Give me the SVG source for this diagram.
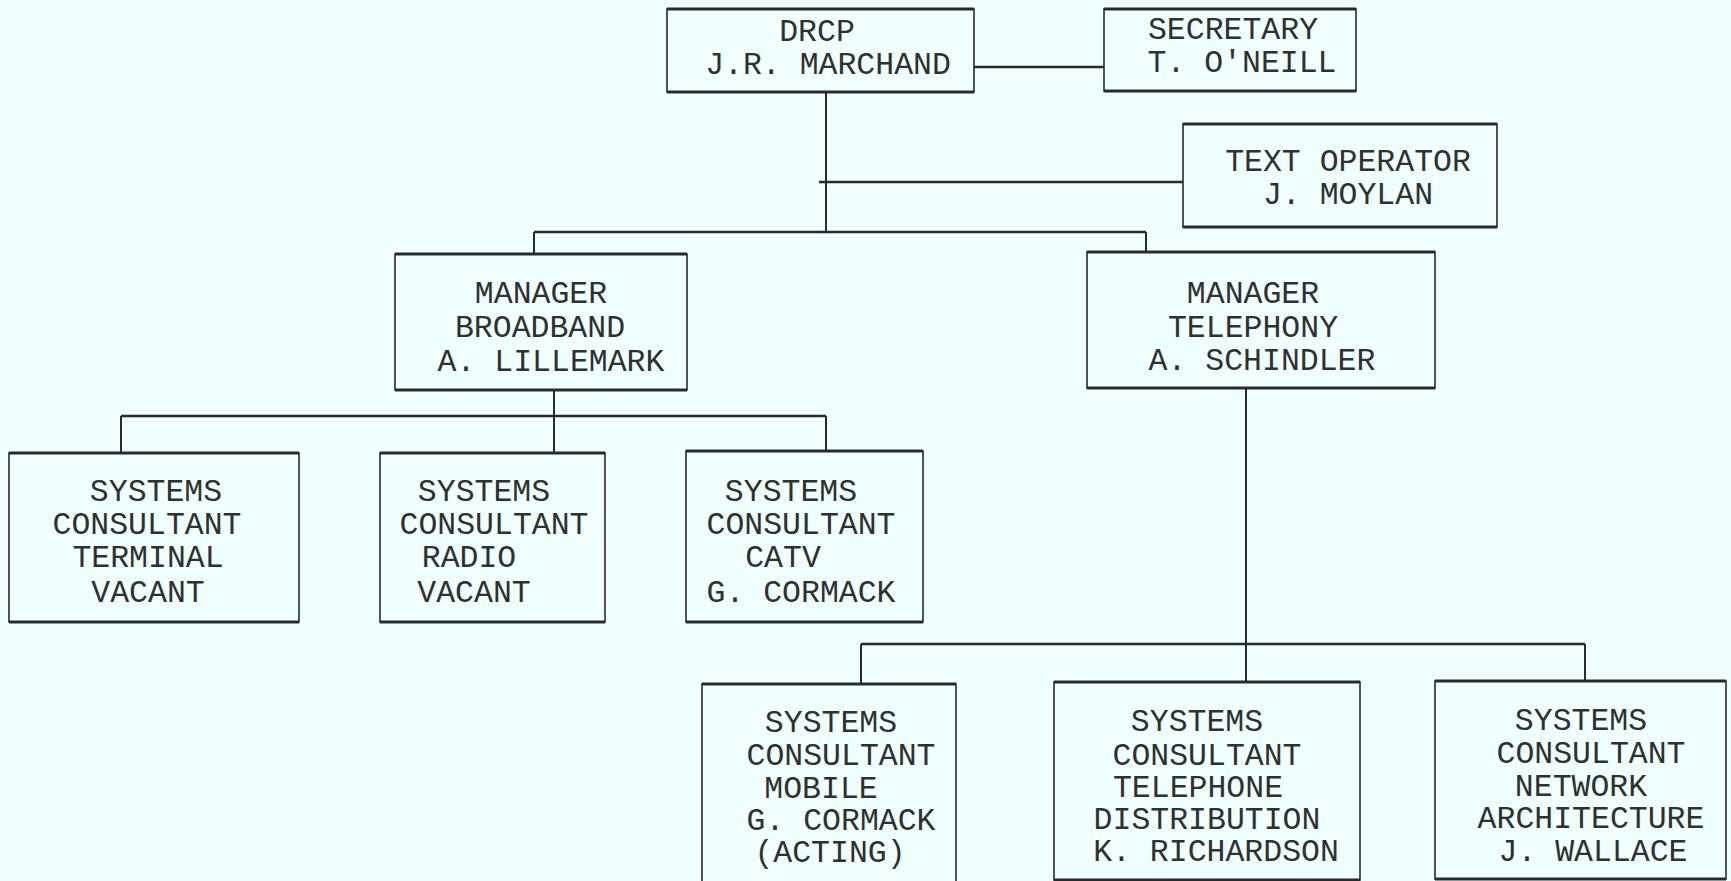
<svg xmlns="http://www.w3.org/2000/svg" width="1731" height="881" viewBox="0 0 1731 881">
<style>
.bg{fill:#effefe}
.box{fill:none;stroke:#2a2a2a;stroke-width:1.6}
.edge{stroke:#2a2a2a;stroke-width:3;fill:none}
.con{stroke:#2a2a2a;stroke-width:2;fill:none}
.conh{stroke:#2a2a2a;stroke-width:2.6;fill:none}
text{font-family:"Liberation Mono","DejaVu Sans Mono",monospace;font-size:31.5px;fill:#303030;text-anchor:middle}
</style>
<rect class="bg" x="0" y="0" width="1731" height="881"/>
<g id="connectors">
<path class="conh" d="M974 67H1104"/>
<path class="con" d="M826 92V232"/>
<path class="conh" d="M819 182H1183"/>
<path class="conh" d="M534 232H1146"/>
<path class="con" d="M534 232V254M1146 232V252"/>
<path class="con" d="M554 390V416"/>
<path class="conh" d="M121 416H826"/>
<path class="con" d="M121 416V453M554 416V453M826 416V451"/>
<path class="con" d="M1246 388V644"/>
<path class="conh" d="M861 644H1585"/>
<path class="con" d="M861 644V684M1246 644V682M1585 644V681"/>
</g>
<g id="drcp">
<rect class="box" x="667" y="9" width="307" height="83"/>
<path class="edge" d="M667 9H974M667 92H974"/>
<text x="817" y="41">DRCP</text>
<text x="828" y="74">J.R. MARCHAND</text>
</g>
<g id="secretary">
<rect class="box" x="1104" y="9" width="252" height="82"/>
<path class="edge" d="M1104 9H1356M1104 91H1356"/>
<text x="1233" y="39">SECRETARY</text>
<text x="1242" y="72">T. O'NEILL</text>
</g>
<g id="text-operator">
<rect class="box" x="1183" y="124" width="314" height="103"/>
<path class="edge" d="M1183 124H1497M1183 227H1497"/>
<text x="1348" y="171">TEXT OPERATOR</text>
<text x="1348" y="204">J. MOYLAN</text>
</g>
<g id="manager-broadband">
<rect class="box" x="395" y="254" width="292" height="136"/>
<path class="edge" d="M395 254H687M395 390H687"/>
<text x="541" y="303">MANAGER</text>
<text x="540" y="337">BROADBAND</text>
<text x="551" y="371">A. LILLEMARK</text>
</g>
<g id="manager-telephony">
<rect class="box" x="1087" y="252" width="348" height="136"/>
<path class="edge" d="M1087 252H1435M1087 388H1435"/>
<text x="1253" y="303">MANAGER</text>
<text x="1253" y="337">TELEPHONY</text>
<text x="1262" y="370">A. SCHINDLER</text>
</g>
<g id="sc-terminal">
<rect class="box" x="9" y="453" width="290" height="169"/>
<path class="edge" d="M9 453H299M9 622H299"/>
<text x="156" y="501">SYSTEMS</text>
<text x="147" y="534">CONSULTANT</text>
<text x="148" y="567">TERMINAL</text>
<text x="148" y="602">VACANT</text>
</g>
<g id="sc-radio">
<rect class="box" x="380" y="453" width="225" height="169"/>
<path class="edge" d="M380 453H605M380 622H605"/>
<text x="484" y="501">SYSTEMS</text>
<text x="494" y="534">CONSULTANT</text>
<text x="469" y="567">RADIO</text>
<text x="474" y="602">VACANT</text>
</g>
<g id="sc-catv">
<rect class="box" x="686" y="451" width="237" height="171"/>
<path class="edge" d="M686 451H923M686 622H923"/>
<text x="791" y="501">SYSTEMS</text>
<text x="801" y="534">CONSULTANT</text>
<text x="783" y="567">CATV</text>
<text x="801" y="602">G. CORMACK</text>
</g>
<g id="sc-mobile">
<rect class="box" x="702" y="684" width="254" height="200"/>
<path class="edge" d="M702 684H956"/>
<text x="831" y="732">SYSTEMS</text>
<text x="841" y="765">CONSULTANT</text>
<text x="821" y="798">MOBILE</text>
<text x="841" y="830">G. CORMACK</text>
<text x="830" y="862">(ACTING)</text>
</g>
<g id="sc-telephone">
<rect class="box" x="1054" y="682" width="306" height="198"/>
<path class="edge" d="M1054 682H1360M1054 880H1360"/>
<text x="1197" y="731">SYSTEMS</text>
<text x="1207" y="765">CONSULTANT</text>
<text x="1198" y="797">TELEPHONE</text>
<text x="1207" y="829">DISTRIBUTION</text>
<text x="1216" y="861">K. RICHARDSON</text>
</g>
<g id="sc-network">
<rect class="box" x="1435" y="681" width="291" height="198"/>
<path class="edge" d="M1435 681H1726M1435 879H1726"/>
<text x="1581" y="730">SYSTEMS</text>
<text x="1591" y="763">CONSULTANT</text>
<text x="1581" y="796">NETWORK</text>
<text x="1591" y="828">ARCHITECTURE</text>
<text x="1593" y="861">J. WALLACE</text>
</g>
</svg>
